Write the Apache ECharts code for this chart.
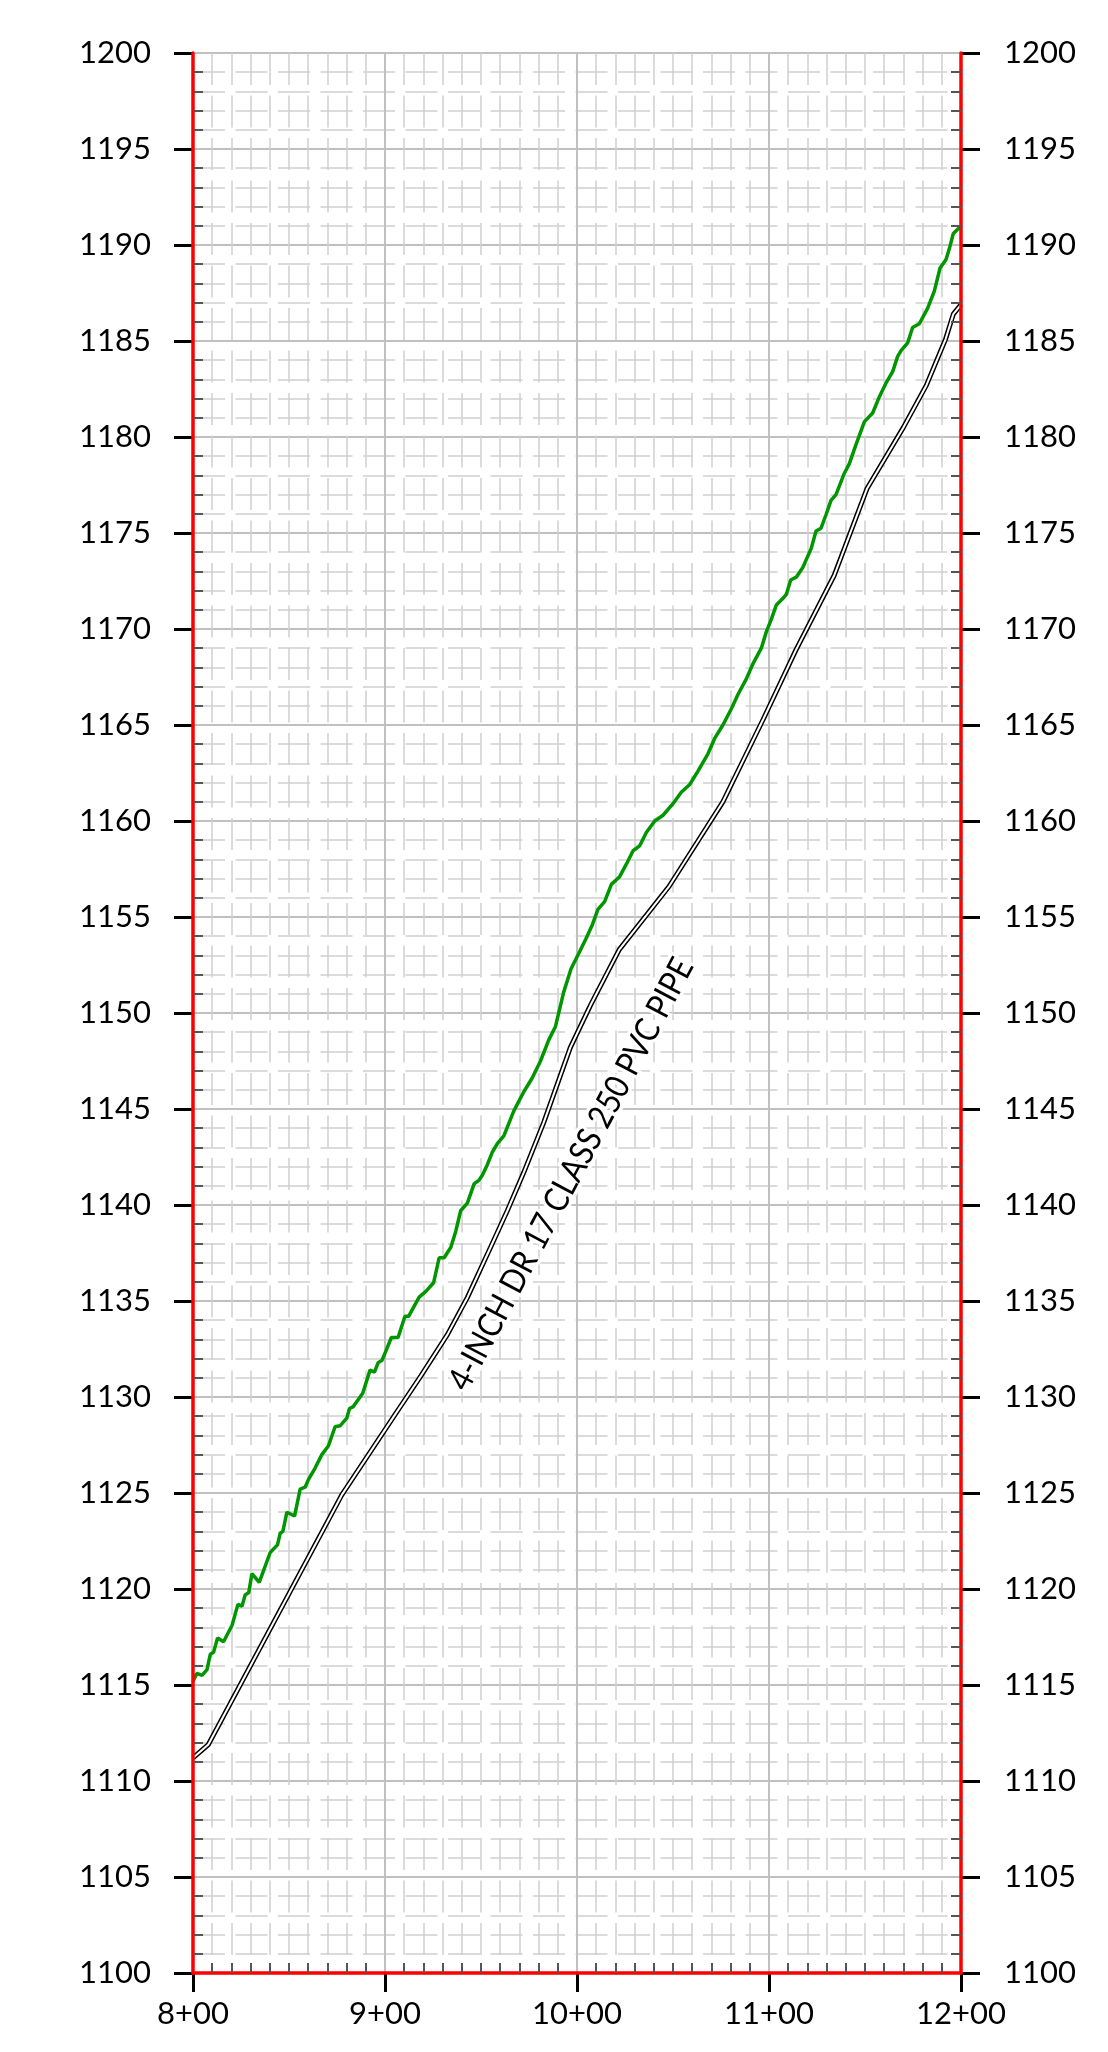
<!DOCTYPE html>
<html><head><meta charset="utf-8">
<script src="https://cdn.jsdelivr.net/npm/echarts@6/dist/echarts.min.js"></script>
<style>html,body{margin:0;padding:0;background:#fff}#c{width:1108px;height:2052px}</style>
</head><body><div id="c"></div>
<script>
// ---- data ----
const groundStation = [800,802,804.7,807.3,809,810.7,812.8,815.9,820.3,823.4,825.5,827.2,829,830.7,834.5,840.2,844,845.4,846.8,848.9,852.9,855.8,858.4,860.1,863.6,867.1,870.5,874,876.6,880.1,881.5,883.5,888.4,892.2,894.5,896.5,898.4,900.5,903.3,906.8,910.4,912.3,914.5,917.8,921.3,925.3,928.2,930.8,934.3,936.9,939.4,942.9,946.4,949,950.7,953.3,955.9,958.5,961.9,967.1,972.3,976.6,981,985.3,988.8,993.1,996.9,1000.9,1004.6,1008,1010.9,1014.4,1017.9,1022.2,1025.7,1029.2,1032.6,1036.1,1040.5,1044.8,1050,1054.3,1058.7,1063,1068.2,1071.7,1076,1080.4,1083.9,1088.2,1091.7,1096,1098.6,1101.2,1103.8,1107.3,1109,1111.3,1114.2,1117.6,1122,1124.5,1127.1,1129.7,1132.3,1134.9,1139.2,1141.8,1145.3,1149.7,1154,1157.5,1160.9,1164.4,1167,1168.8,1172.2,1174.8,1178.3,1182.6,1186.1,1189.1,1192.2,1193.9,1196,1199.1,1200];
const groundElev = [1115.2,1115.6,1115.5,1115.8,1116.6,1116.7,1117.45,1117.25,1118.1,1119.2,1119.1,1119.7,1119.8,1120.8,1120.35,1121.9,1122.3,1122.9,1123.0,1124.0,1123.8,1125.2,1125.3,1125.7,1126.3,1127.0,1127.45,1128.45,1128.5,1128.9,1129.4,1129.5,1130.2,1131.4,1131.3,1131.8,1131.9,1132.4,1133.1,1133.1,1134.2,1134.2,1134.6,1135.2,1135.5,1135.95,1137.25,1137.25,1137.8,1138.65,1139.7,1140.1,1141.1,1141.3,1141.55,1142.1,1142.75,1143.2,1143.6,1144.9,1145.9,1146.6,1147.5,1148.6,1149.3,1151.1,1152.3,1153.1,1153.85,1154.6,1155.4,1155.8,1156.7,1157.1,1157.75,1158.45,1158.7,1159.4,1160.0,1160.3,1160.9,1161.5,1161.9,1162.6,1163.5,1164.3,1165.0,1165.85,1166.6,1167.4,1168.2,1169.0,1169.85,1170.5,1171.25,1171.6,1171.8,1172.55,1172.7,1173.2,1174.2,1175.1,1175.25,1175.95,1176.7,1177.0,1178.1,1178.6,1179.6,1180.8,1181.25,1182.1,1182.8,1183.4,1184.2,1184.5,1184.9,1185.7,1185.9,1186.7,1187.6,1188.8,1189.25,1189.8,1190.6,1190.9,1190.85];
const pipeStation = [800,808,877.5,906,918.7,932.5,943,955,963.7,972.3,982.7,996.5,1007,1022,1048,1076,1097,1114,1134,1151,1170,1182,1192,1196,1200];
const pipeElev = [1111.2,1111.9,1124.9,1129.2,1131.1,1133.25,1135.2,1137.8,1139.7,1141.7,1144.3,1148.2,1150.4,1153.3,1156.6,1161.0,1165.3,1168.9,1172.8,1177.3,1180.5,1182.7,1185.1,1186.4,1186.9];
const stationTicks = [800,900,1000,1100,1200];
const stationLabels = ['8+00','9+00','10+00','11+00','12+00'];
const pipeLabel = '4-INCH DR 17 CLASS 250 PVC PIPE';
const pipeLabelAt = [997, 1141.6];

const zip = (a, b) => a.map((v, i) => [v, b[i]]);
const FONT = 'Lato';
const chart = echarts.init(document.getElementById('c'), null, {renderer: 'canvas'});

const majorSplit = {show: true, lineStyle: {color: '#c0c0c0', width: 2}};
const minorSplit = {show: true, lineStyle: {color: '#d0d0d0', width: 1.5, type: [32, 10.5]}};
const majorTick = {show: true, length: 19, lineStyle: {color: '#000', width: 3}};
const minorTickStyle = {color: '#555', width: 2};
const redLine = {show: true, onZero: false, lineStyle: {color: '#ff0000', width: 3.5}};
const yLabel = (m) => ({show: true, margin: m, fontSize: 31, fontFamily: FONT, color: '#000', showMinLabel: true, showMaxLabel: true,
  formatter: v => String(Math.round(v))});

const yBase = {type: 'value', min: 1100, max: 1200, interval: 5};
const xBase = {type: 'value', min: 800, max: 1200, interval: 100};

chart.setOption({
  animation: false,
  grid: {left: 193, right: 147, top: 53, bottom: 79, outerBoundsMode: 'none'},
  xAxis: [
    Object.assign({}, xBase, {
      position: 'bottom', z: 0,
      axisLine: {show: false},
      axisTick: majorTick,
      axisLabel: {show: true, margin: 25, fontSize: 31, fontFamily: FONT, color: '#000', showMinLabel: true, showMaxLabel: true,
        formatter: v => { const i = stationTicks.indexOf(v); return i >= 0 ? stationLabels[i] : ''; }},
      splitLine: majorSplit,
      minorTick: {show: false, splitNumber: 10},
      minorSplitLine: minorSplit
    }),
    Object.assign({}, xBase, {
      position: 'bottom', z: 5,
      axisLine: redLine,
      axisTick: {show: false, inside: true},
      axisLabel: {show: false},
      splitLine: {show: false},
      minorTick: {show: true, splitNumber: 10, length: 10, lineStyle: minorTickStyle}
    })
  ],
  yAxis: [
    Object.assign({}, yBase, {
      position: 'left', z: 0,
      axisLine: {show: false},
      axisTick: majorTick,
      axisLabel: yLabel(42),
      splitLine: majorSplit,
      minorTick: {show: false, splitNumber: 5},
      minorSplitLine: minorSplit
    }),
    Object.assign({}, yBase, {
      position: 'left', z: 5,
      axisLine: redLine,
      axisTick: {show: false, inside: true},
      axisLabel: {show: false},
      splitLine: {show: false},
      minorTick: {show: true, splitNumber: 5, length: 10, lineStyle: minorTickStyle}
    }),
    Object.assign({}, yBase, {
      position: 'right', z: 0,
      axisLine: {show: false},
      axisTick: majorTick,
      axisLabel: yLabel(43),
      splitLine: {show: false}
    }),
    Object.assign({}, yBase, {
      position: 'right', z: 5,
      axisLine: redLine,
      axisTick: {show: false, inside: true},
      axisLabel: {show: false},
      splitLine: {show: false},
      minorTick: {show: true, splitNumber: 5, length: 10, lineStyle: minorTickStyle}
    })
  ],
  series: [
    {type: 'line', name: 'pipe', xAxisIndex: 0, yAxisIndex: 0, data: zip(pipeStation, pipeElev),
      showSymbol: false, symbol: 'none', silent: true, z: 2, lineStyle: {color: '#000', width: 5}},
    {type: 'line', name: 'pipeCore', xAxisIndex: 0, yAxisIndex: 0, data: zip(pipeStation, pipeElev),
      showSymbol: false, symbol: 'none', silent: true, z: 3, lineStyle: {color: '#fff', width: 2}},
    {type: 'line', name: 'ground', xAxisIndex: 0, yAxisIndex: 0, data: zip(groundStation, groundElev),
      showSymbol: false, symbol: 'none', silent: true, z: 4, lineStyle: {color: '#009600', width: 3.5}}
  ]
});

const p = chart.convertToPixel({xAxisIndex: 0, yAxisIndex: 0}, pipeLabelAt);
chart.setOption({
  graphic: [{
    type: 'text', x: p[0], y: p[1], rotation: 62 * Math.PI / 180, scaleX: 0.88, z: 10, silent: true,
    style: {text: pipeLabel, font: '34px Lato', fill: '#000', align: 'center', verticalAlign: 'middle',
      stroke: '#fff', lineWidth: 7}
  }]
});
</script>
</body></html>
